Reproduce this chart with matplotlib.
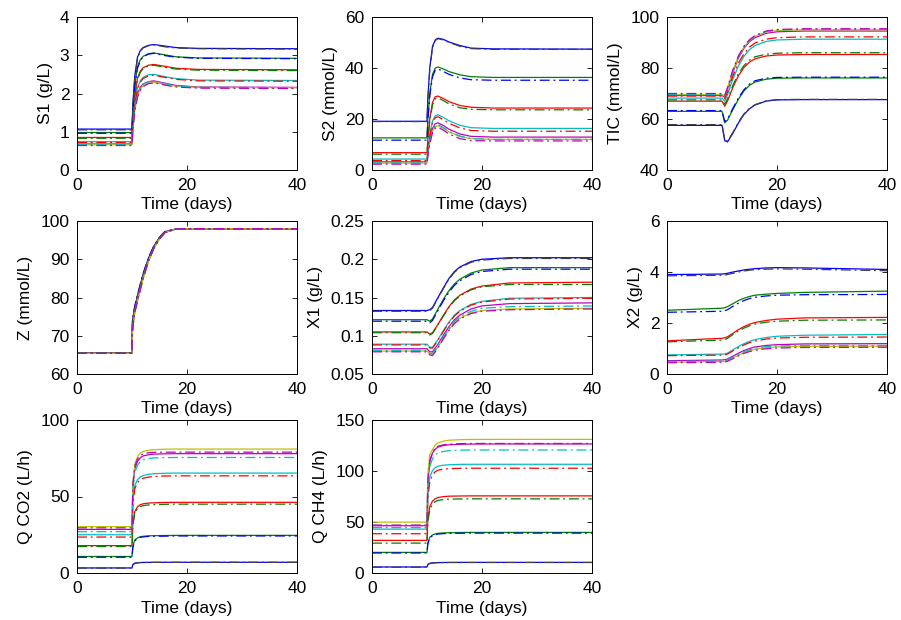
import matplotlib
matplotlib.use("Agg")
import matplotlib.pyplot as plt
from matplotlib.ticker import FuncFormatter, MultipleLocator

plt.rcParams["font.family"] = ["Liberation Sans", "DejaVu Sans"]
plt.rcParams["font.size"] = 12.5

# Time grids (days)
T_FAST = [0, 10, 10.15, 10.5, 11, 11.5, 12, 13, 14, 16, 18, 22, 40]
T_SLOW = [0, 10, 10.5, 11, 12, 13, 14, 15, 16, 18, 20, 25, 40]
T_Z = [0, 10, 10.1, 10.5, 11, 12, 13, 14, 15, 16, 18, 20, 40]

# ---- S1 (g/L) ----
S1_model = [
    [1.07, 1.07, 1.70, 2.45, 2.95, 3.12, 3.20, 3.26, 3.28, 3.24, 3.20, 3.18, 3.17],
    [0.98, 0.98, 1.55, 2.23, 2.70, 2.88, 2.97, 3.04, 3.06, 3.01, 2.96, 2.93, 2.92],
    [0.85, 0.85, 1.36, 1.96, 2.40, 2.58, 2.67, 2.74, 2.76, 2.71, 2.66, 2.63, 2.62],
    [0.74, 0.74, 1.20, 1.75, 2.15, 2.33, 2.42, 2.49, 2.50, 2.44, 2.39, 2.35, 2.34],
    [0.68, 0.68, 1.11, 1.62, 1.99, 2.16, 2.25, 2.31, 2.33, 2.27, 2.21, 2.17, 2.16],
    [0.66, 0.66, 1.07, 1.56, 1.93, 2.11, 2.20, 2.27, 2.29, 2.24, 2.19, 2.16, 2.15],
]
S1_est = [
    [1.05, 1.05, 1.65, 2.40, 2.92, 3.10, 3.19, 3.25, 3.27, 3.22, 3.19, 3.17, 3.16],
    [0.96, 0.96, 1.50, 2.18, 2.66, 2.85, 2.96, 3.03, 3.05, 2.99, 2.95, 2.92, 2.91],
    [0.83, 0.83, 1.32, 1.92, 2.36, 2.55, 2.65, 2.72, 2.74, 2.68, 2.64, 2.61, 2.60],
    [0.72, 0.72, 1.16, 1.70, 2.10, 2.29, 2.39, 2.46, 2.48, 2.42, 2.37, 2.33, 2.32],
    [0.67, 0.67, 1.08, 1.58, 1.96, 2.14, 2.24, 2.31, 2.32, 2.26, 2.20, 2.16, 2.15],
    [0.64, 0.64, 1.04, 1.52, 1.90, 2.08, 2.18, 2.26, 2.28, 2.22, 2.17, 2.14, 2.13],
]

# ---- S2 (mmol/L) ----
S2_model = [
    [19.1, 19.1, 28.0, 40.0, 48.5, 51.0, 51.7, 51.2, 50.2, 48.8, 47.8, 47.5, 47.4],
    [12.6, 12.6, 20.0, 30.0, 37.5, 40.0, 40.4, 39.6, 38.6, 37.3, 36.6, 36.3, 36.3],
    [6.8, 6.8, 12.0, 20.0, 26.5, 28.7, 29.0, 28.0, 26.8, 25.3, 24.6, 24.3, 24.3],
    [4.3, 4.3, 8.0, 14.0, 19.3, 21.3, 21.7, 20.6, 19.3, 17.5, 16.6, 16.3, 16.3],
    [3.2, 3.2, 6.5, 11.5, 16.3, 18.1, 18.5, 17.4, 16.0, 14.1, 13.2, 12.9, 12.9],
    [2.7, 2.7, 6.0, 10.8, 15.3, 17.0, 17.4, 16.3, 14.9, 13.1, 12.3, 12.0, 12.0],
]
S2_est = [
    [19.0, 19.0, 27.0, 39.0, 48.0, 50.8, 51.5, 51.0, 50.0, 48.5, 47.6, 47.3, 47.3],
    [11.7, 11.7, 19.0, 29.0, 36.5, 39.2, 39.6, 38.6, 37.5, 36.1, 35.4, 35.2, 35.2],
    [6.2, 6.2, 11.0, 19.0, 25.5, 27.9, 28.3, 27.2, 25.9, 24.4, 23.8, 23.6, 23.6],
    [3.7, 3.7, 7.5, 13.2, 18.5, 20.5, 20.9, 19.7, 18.3, 16.5, 15.5, 15.2, 15.2],
    [2.8, 2.8, 6.0, 11.0, 15.6, 17.4, 17.8, 16.6, 15.2, 13.3, 12.3, 12.0, 12.0],
    [2.3, 2.3, 5.5, 10.2, 14.6, 16.4, 16.8, 15.6, 14.1, 12.3, 11.5, 11.4, 11.4],
]

# ---- TIC (mmol/L) ----
TIC_model = [
    [57.5, 57.5, 51.5, 51.0, 54.5, 58.5, 61.8, 64.0, 65.5, 67.0, 67.5, 67.6, 67.6],
    [63.0, 63.0, 58.5, 59.5, 63.8, 67.8, 71.0, 73.2, 74.5, 75.6, 76.0, 76.1, 76.1],
    [67.0, 67.0, 65.0, 67.0, 72.5, 77.0, 80.2, 82.3, 83.6, 84.7, 85.1, 85.3, 85.3],
    [68.2, 68.2, 67.0, 69.5, 75.8, 80.8, 84.6, 87.2, 88.8, 90.4, 91.0, 91.3, 91.3],
    [69.2, 69.2, 68.5, 71.5, 78.5, 84.0, 87.8, 90.3, 91.9, 93.6, 94.2, 94.5, 94.5],
    [69.6, 69.6, 69.0, 72.0, 79.0, 84.5, 88.3, 90.8, 92.4, 94.1, 94.7, 95.0, 95.0],
]
TIC_est = [
    [57.8, 57.8, 52.0, 51.3, 54.8, 58.8, 62.0, 64.2, 65.6, 67.1, 67.6, 67.7, 67.7],
    [63.3, 63.3, 59.0, 60.0, 64.3, 68.3, 71.5, 73.7, 75.0, 76.0, 76.3, 76.4, 76.4],
    [67.5, 67.5, 65.8, 67.8, 73.3, 77.8, 81.0, 83.1, 84.4, 85.4, 85.8, 86.0, 86.0],
    [69.0, 69.0, 68.0, 70.5, 77.0, 82.0, 85.6, 88.2, 89.8, 91.3, 91.9, 92.2, 92.2],
    [69.6, 69.6, 69.0, 72.0, 79.0, 84.5, 88.3, 90.9, 92.5, 94.3, 94.9, 95.2, 95.2],
    [70.0, 70.0, 69.3, 72.3, 79.4, 84.8, 88.6, 91.1, 92.7, 94.5, 95.1, 95.4, 95.4],
]

# ---- Z (mmol/L) ----
Z_model = [
    [65.5, 65.5, 74.0, 77.5, 80.5, 86.0, 90.3, 93.5, 95.7, 97.2, 97.9, 98.0, 98.0],
    [65.5, 65.5, 73.5, 77.2, 80.2, 85.7, 90.1, 93.3, 95.6, 97.1, 97.9, 98.0, 98.0],
    [65.5, 65.5, 73.0, 76.8, 79.9, 85.4, 89.9, 93.2, 95.5, 97.1, 97.9, 98.0, 98.0],
    [65.4, 65.4, 72.5, 76.5, 79.6, 85.2, 89.7, 93.1, 95.4, 97.0, 97.9, 98.0, 98.0],
    [65.4, 65.4, 72.0, 76.2, 79.3, 85.0, 89.6, 93.0, 95.4, 97.0, 97.9, 98.0, 98.0],
    [65.4, 65.4, 71.5, 75.9, 79.0, 84.7, 89.4, 92.9, 95.3, 97.0, 97.9, 98.0, 98.0],
]
Z_est = [
    [65.5, 65.5, 74.5, 77.8, 80.8, 86.2, 90.5, 93.6, 95.8, 97.3, 97.9, 98.0, 98.0],
    [65.5, 65.5, 73.8, 77.4, 80.4, 85.9, 90.2, 93.4, 95.6, 97.2, 97.9, 98.0, 98.0],
    [65.5, 65.5, 73.2, 77.0, 80.0, 85.5, 90.0, 93.2, 95.5, 97.1, 97.9, 98.0, 98.0],
    [65.4, 65.4, 72.7, 76.6, 79.7, 85.3, 89.8, 93.1, 95.4, 97.0, 97.9, 98.0, 98.0],
    [65.4, 65.4, 72.2, 76.3, 79.4, 85.1, 89.6, 93.0, 95.4, 97.0, 97.9, 98.0, 98.0],
    [65.4, 65.4, 71.7, 76.0, 79.1, 84.8, 89.5, 92.9, 95.3, 97.0, 97.9, 98.0, 98.0],
]

# ---- X1 (g/L) ----
X1_model = [
    [0.133, 0.133, 0.134, 0.137, 0.150, 0.163, 0.175, 0.184, 0.190, 0.197, 0.200, 0.202, 0.202],
    [0.121, 0.121, 0.119, 0.122, 0.135, 0.148, 0.159, 0.168, 0.174, 0.182, 0.186, 0.189, 0.189],
    [0.105, 0.105, 0.102, 0.104, 0.115, 0.127, 0.138, 0.147, 0.153, 0.161, 0.165, 0.169, 0.170],
    [0.089, 0.089, 0.085, 0.085, 0.095, 0.107, 0.118, 0.127, 0.133, 0.141, 0.145, 0.149, 0.150],
    [0.083, 0.083, 0.079, 0.079, 0.089, 0.101, 0.112, 0.121, 0.127, 0.135, 0.139, 0.142, 0.143],
    [0.080, 0.080, 0.076, 0.076, 0.085, 0.097, 0.108, 0.117, 0.123, 0.130, 0.133, 0.135, 0.136],
]
X1_est = [
    [0.132, 0.132, 0.133, 0.136, 0.149, 0.162, 0.174, 0.183, 0.189, 0.196, 0.199, 0.201, 0.201],
    [0.119, 0.119, 0.117, 0.120, 0.133, 0.146, 0.157, 0.166, 0.172, 0.180, 0.184, 0.187, 0.187],
    [0.104, 0.104, 0.101, 0.103, 0.114, 0.126, 0.137, 0.146, 0.152, 0.160, 0.164, 0.167, 0.167],
    [0.088, 0.088, 0.084, 0.084, 0.094, 0.106, 0.117, 0.126, 0.132, 0.140, 0.144, 0.148, 0.149],
    [0.081, 0.081, 0.077, 0.077, 0.087, 0.099, 0.110, 0.119, 0.125, 0.132, 0.136, 0.138, 0.139],
    [0.079, 0.079, 0.075, 0.074, 0.084, 0.096, 0.107, 0.116, 0.122, 0.129, 0.132, 0.134, 0.135],
]

# ---- X2 (g/L) ----
X2_model = [
    [3.90, 3.92, 3.93, 3.95, 4.00, 4.04, 4.08, 4.11, 4.13, 4.16, 4.17, 4.16, 4.10],
    [2.50, 2.58, 2.60, 2.64, 2.76, 2.88, 2.97, 3.04, 3.09, 3.13, 3.16, 3.20, 3.25],
    [1.30, 1.40, 1.42, 1.46, 1.60, 1.74, 1.86, 1.95, 2.02, 2.10, 2.15, 2.20, 2.22],
    [0.75, 0.78, 0.79, 0.82, 0.95, 1.08, 1.19, 1.28, 1.35, 1.43, 1.48, 1.52, 1.55],
    [0.52, 0.55, 0.56, 0.59, 0.70, 0.82, 0.92, 1.00, 1.06, 1.12, 1.15, 1.18, 1.19],
    [0.46, 0.49, 0.50, 0.53, 0.63, 0.74, 0.84, 0.92, 0.97, 1.03, 1.06, 1.08, 1.09],
]
X2_est = [
    [3.85, 3.87, 3.88, 3.90, 3.95, 4.00, 4.04, 4.07, 4.09, 4.11, 4.12, 4.11, 4.05],
    [2.42, 2.46, 2.48, 2.52, 2.66, 2.78, 2.88, 2.96, 3.01, 3.06, 3.09, 3.11, 3.12],
    [1.26, 1.33, 1.35, 1.40, 1.55, 1.69, 1.80, 1.89, 1.96, 2.03, 2.07, 2.11, 2.12],
    [0.72, 0.74, 0.75, 0.78, 0.91, 1.03, 1.14, 1.23, 1.29, 1.37, 1.41, 1.44, 1.45],
    [0.49, 0.51, 0.52, 0.55, 0.66, 0.78, 0.88, 0.95, 1.01, 1.07, 1.10, 1.12, 1.12],
    [0.44, 0.46, 0.47, 0.50, 0.60, 0.71, 0.81, 0.88, 0.93, 0.99, 1.02, 1.04, 1.05],
]

# ---- Q CO2 (L/h) ----
QCO2_model = [
    [3.3, 3.3, 5.5, 6.4, 6.7, 6.85, 6.9, 6.95, 7.0, 7.0, 7.0, 7.0, 7.0],
    [10.8, 10.8, 17.5, 21.5, 23.0, 23.7, 24.0, 24.3, 24.4, 24.5, 24.6, 24.6, 24.6],
    [17.9, 17.9, 32.0, 40.0, 43.3, 44.6, 45.2, 45.7, 45.9, 46.1, 46.2, 46.2, 46.2],
    [25.0, 25.0, 47.0, 57.0, 61.0, 62.8, 63.7, 64.5, 64.9, 65.2, 65.3, 65.3, 65.3],
    [28.5, 28.5, 56.0, 68.0, 73.0, 75.3, 76.5, 77.3, 77.7, 77.9, 78.0, 78.0, 78.0],
    [30.3, 30.3, 59.0, 71.0, 76.0, 78.3, 79.4, 80.2, 80.6, 80.9, 81.0, 81.0, 81.0],
]
QCO2_est = [
    [3.2, 3.2, 5.3, 6.3, 6.6, 6.8, 6.85, 6.9, 6.95, 7.0, 7.0, 7.0, 7.0],
    [10.3, 10.3, 16.8, 21.0, 22.6, 23.3, 23.6, 23.9, 24.0, 24.1, 24.2, 24.2, 24.2],
    [17.3, 17.3, 31.0, 38.8, 42.1, 43.4, 44.0, 44.5, 44.7, 44.9, 45.0, 45.0, 45.0],
    [23.5, 23.5, 45.0, 55.0, 59.2, 61.0, 61.9, 62.7, 63.1, 63.4, 63.5, 63.5, 63.5],
    [27.0, 27.0, 54.0, 65.5, 70.5, 72.8, 74.0, 74.8, 75.2, 75.4, 75.5, 75.5, 75.5],
    [29.5, 29.5, 57.5, 69.5, 74.5, 76.8, 77.9, 78.6, 78.9, 79.0, 79.0, 79.0, 79.0],
]

# ---- Q CH4 (L/h) ----
QCH4_model = [
    [5.9, 5.9, 8.3, 9.5, 9.9, 10.1, 10.2, 10.3, 10.35, 10.4, 10.4, 10.4, 10.4],
    [20.2, 20.2, 29.5, 35.0, 37.3, 38.4, 38.9, 39.3, 39.5, 39.7, 39.8, 39.8, 39.8],
    [32.0, 32.0, 53.0, 65.0, 70.5, 72.8, 74.0, 74.9, 75.3, 75.5, 75.6, 75.6, 75.6],
    [43.0, 43.0, 78.0, 94.0, 100.5, 103.3, 104.7, 105.7, 106.1, 106.5, 106.6, 106.6, 106.6],
    [46.3, 46.3, 89.0, 109.0, 117.5, 121.5, 123.5, 125.0, 125.7, 126.2, 126.4, 126.5, 126.5],
    [49.9, 49.9, 96.0, 116.0, 121.0, 125.5, 127.5, 129.3, 130.2, 130.7, 130.9, 131.0, 131.0],
]
QCH4_est = [
    [5.7, 5.7, 8.0, 9.3, 9.8, 10.0, 10.1, 10.2, 10.3, 10.3, 10.3, 10.3, 10.3],
    [19.6, 19.6, 28.6, 34.2, 36.6, 37.7, 38.2, 38.6, 38.8, 39.0, 39.1, 39.1, 39.1],
    [29.3, 29.3, 50.0, 62.0, 67.6, 70.0, 71.2, 72.0, 72.4, 72.6, 72.7, 72.7, 72.7],
    [38.5, 38.5, 73.0, 89.5, 96.3, 99.3, 100.8, 101.8, 102.3, 102.6, 102.7, 102.7, 102.7],
    [44.5, 44.5, 85.0, 104.0, 112.0, 115.8, 117.7, 119.2, 119.9, 120.4, 120.6, 120.6, 120.6],
    [47.0, 47.0, 90.0, 110.0, 118.5, 122.3, 124.3, 125.7, 126.3, 126.8, 127.0, 127.0, 127.0],
]

# Axis labels and limits per panel
Y_LABELS = ["S1 (g/L)", "S2 (mmol/L)", "TIC (mmol/L)", "Z (mmol/L)", "X1 (g/L)",
            "X2 (g/L)", "Q CO2 (L/h)", "Q CH4 (L/h)"]
Y_LIMITS = [(0, 4), (0, 60), (40, 100), (60, 100), (0.05, 0.25), (0, 6), (0, 100), (0, 150)]
Y_STEPS = [1, 20, 20, 10, 0.05, 2, 50, 50]
X_LABEL = "Time (days)"

# Classic colour order: six solid runs, then the dash-dot runs continue the cycle
COLOR_ORDER = [(0, 0, 1), (0, 0.5, 0), (1, 0, 0), (0, 0.75, 0.75),
               (0.75, 0, 0.75), (0.75, 0.75, 0), (0.25, 0.25, 0.25)]

panels = [
    (T_FAST, S1_model, S1_est),
    (T_FAST, S2_model, S2_est),
    (T_SLOW, TIC_model, TIC_est),
    (T_Z, Z_model, Z_est),
    (T_SLOW, X1_model, X1_est),
    (T_SLOW, X2_model, X2_est),
    (T_FAST, QCO2_model, QCO2_est),
    (T_FAST, QCH4_model, QCH4_est),
]

W, H = 901, 620
fig = plt.figure(figsize=(W / 100, H / 100), dpi=100)
fig.patch.set_facecolor("white")

col_left = [77, 372, 667]
row_top = [17, 221, 420]
ax_w, ax_h = 220, 153

fmt = FuncFormatter(lambda v, p: "%g" % round(v, 6))

for i, (t, model, est) in enumerate(panels):
    r, c = divmod(i, 3)
    left = col_left[c] / W
    bottom = 1 - (row_top[r] + ax_h) / H
    ax = fig.add_axes([left, bottom, ax_w / W, ax_h / H])
    n = len(model)
    for k in range(n):
        ax.plot(t, model[k], color=COLOR_ORDER[k % 7], lw=0.9, ls="-")
    for k in range(n):
        ax.plot(t, est[k], color=COLOR_ORDER[(n + k) % 7], lw=0.9,
                ls=(0, (8, 3, 1.5, 3)))
    ax.set_xlim(0, 40)
    ax.set_ylim(*Y_LIMITS[i])
    ax.xaxis.set_major_locator(MultipleLocator(20))
    ax.yaxis.set_major_locator(MultipleLocator(Y_STEPS[i]))
    ax.yaxis.set_major_formatter(fmt)
    ax.tick_params(direction="in", top=True, right=True, length=3.5, width=0.6,
                   labelsize=12.5, pad=5.5)
    for s in ax.spines.values():
        s.set_linewidth(0.7)
    ax.set_ylabel(Y_LABELS[i], fontsize=12.5, labelpad=5)
    ax.set_xlabel(X_LABEL, fontsize=12.5, labelpad=3.5)

fig.savefig("out.png", dpi=100, facecolor="white")
